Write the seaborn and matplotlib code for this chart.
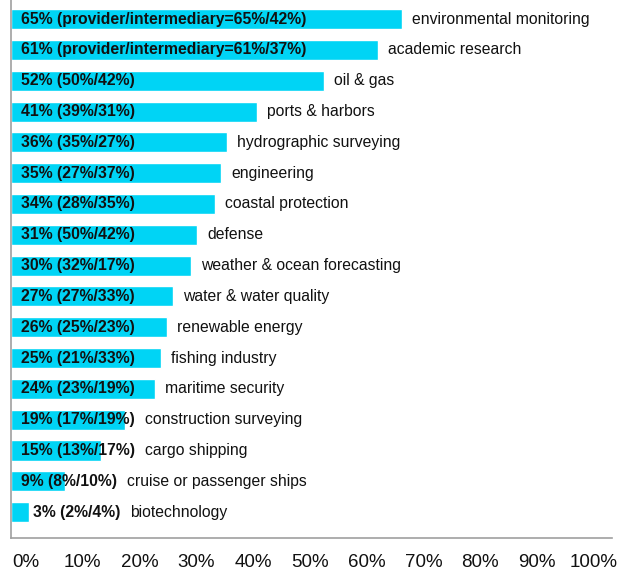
import matplotlib
matplotlib.use('Agg')
import matplotlib.pyplot as plt
import seaborn as sns
import pandas as pd

categories = [
    "environmental monitoring", "academic research", "oil & gas", "ports & harbors",
    "hydrographic surveying", "engineering", "coastal protection", "defense",
    "weather & ocean forecasting", "water & water quality", "renewable energy",
    "fishing industry", "maritime security", "construction surveying",
    "cargo shipping", "cruise or passenger ships", "biotechnology",
]
totals = [65, 61, 52, 41, 36, 35, 34, 31, 30, 27, 26, 25, 24, 19, 15, 9, 3]
provider = [65, 61, 50, 39, 35, 27, 28, 50, 32, 27, 25, 21, 23, 17, 13, 8, 2]
intermediary = [42, 37, 42, 31, 27, 37, 35, 42, 17, 33, 23, 33, 19, 19, 17, 10, 4]
tick_values = [0, 10, 20, 30, 40, 50, 60, 70, 80, 90, 100]
tick_labels = [f"{v}%" for v in tick_values]

sns.set_theme(style='white')
plt.rcParams['font.family'] = ['Liberation Sans', 'DejaVu Sans']

W, H = 624, 573
fig = plt.figure(figsize=(W / 100, H / 100), dpi=100)
ax = fig.add_axes([11 / W, 35 / H, 601 / W, 538 / H])

df = pd.DataFrame({'category': categories, 'total': totals})
sns.barplot(data=df, x='total', y='category', orient='h', color='#00D4F5',
            saturation=1, width=0.65, ax=ax)
ax.set_xlim(0, 100)
ax.set_ylim(16.84, -0.62)
ax.set_yticks([])
ax.set_ylabel('')
ax.set_xlabel('')
for s in ['top', 'right']:
    ax.spines[s].set_visible(False)
for s in ['left', 'bottom']:
    ax.spines[s].set_color('#a0a0a0')
    ax.spines[s].set_linewidth(1.2)

ax.set_xticks([2.46 + 0.945 * v for v in tick_values])
ax.set_xticklabels(tick_labels)
ax.tick_params(axis='x', length=0, pad=11.5, labelsize=13.5, labelcolor='#111111')

fig.canvas.draw()
renderer = fig.canvas.get_renderer()
inv = ax.transData.inverted()


def to_data_x(xpix, i):
    ypix = ax.transData.transform((0, i))[1]
    return inv.transform((xpix, ypix))[0]


for i, (t, p, m, name) in enumerate(zip(totals, provider, intermediary, categories)):
    if i < 2:
        lab = f"{t}% (provider/intermediary={p}%/{m}%)"
    else:
        lab = f"{t}% ({p}%/{m}%)"
    bar_start = ax.transData.transform((0, i))[0]
    bar_end = ax.transData.transform((t, i))[0]
    if bar_end - bar_start > 30:
        lx = bar_start + 10
    else:
        lx = bar_end + 4
    txt = ax.text(to_data_x(lx, i), i, lab, ha='left', va='center',
                  fontweight='bold', fontsize=11.3, color='#111111')
    bb = txt.get_window_extent(renderer)
    cx = max(bb.x1, bar_end) + 10
    ax.text(to_data_x(cx, i), i, name, ha='left', va='center',
            fontsize=11.3, color='#111111')

fig.savefig('out.png', dpi=100)
